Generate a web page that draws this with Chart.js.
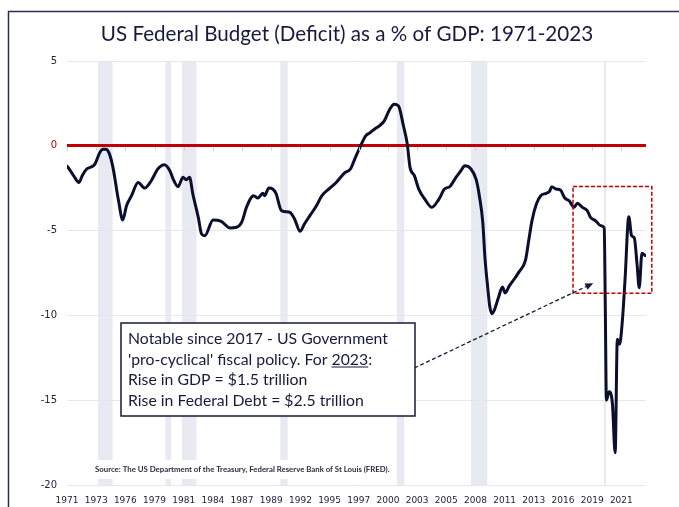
<!DOCTYPE html>
<html>
<head>
<meta charset="utf-8">
<script src="https://cdn.jsdelivr.net/npm/chart.js@4.4.0/dist/chart.umd.min.js"></script>
<style>
  html, body { margin: 0; padding: 0; background: #fff; }
  canvas { display: block; }
</style>
</head>
<body>
<canvas id="deficitChart" width="679" height="507"></canvas>
<script>
// Federal surplus/deficit as % of GDP
const years = [
  1971.0, 1971.1, 1971.6, 1972.1, 1972.4, 1972.8, 1973.25, 1973.55, 1974.0, 1974.3,
  1974.55, 1974.86, 1975.2, 1975.7, 1976.1, 1976.44, 1976.9, 1977.5, 1978.1, 1978.7,
  1979.3, 1979.9, 1980.4, 1980.7, 1981.15, 1981.6, 1981.9, 1982.2, 1982.5, 1983.0,
  1983.3, 1983.6, 1984.35, 1985.1, 1985.9, 1986.5, 1987.0, 1987.4, 1988.06, 1988.45,
  1988.9, 1989.05, 1989.45, 1989.8, 1990.1, 1990.6, 1991.35, 1991.8, 1992.3, 1992.7,
  1993.2, 1993.8, 1994.3, 1995.0, 1995.6, 1996.35, 1996.9, 1997.3, 1997.7, 1998.3,
  1998.65, 1999.1, 1999.55, 2000.0, 2000.5, 2000.9, 2001.3, 2001.75, 2002.1, 2002.35,
  2002.75, 2003.15, 2003.7, 2004.35, 2005.0, 2005.5, 2006.0, 2006.55, 2007.0, 2007.35,
  2007.9, 2008.4, 2008.7, 2009.0, 2009.2, 2009.45, 2009.65, 2009.85, 2010.05, 2010.45,
  2010.8, 2011.05, 2011.4, 2011.9, 2012.3, 2012.9, 2013.2, 2013.5, 2013.9, 2014.3,
  2014.8, 2015.1, 2015.3, 2015.7, 2016.1, 2016.5, 2016.9, 2017.35, 2017.65, 2018.1,
  2018.55, 2018.85, 2019.3, 2019.8, 2020.1, 2020.2, 2020.3, 2020.55, 2020.85, 2021.1,
  2021.3, 2021.5, 2021.75, 2022.0, 2022.35, 2022.6, 2022.85, 2023.1, 2023.3, 2023.55,
  2023.85
];
const deficit = [
  -1.2, -1.27, -1.76, -2.16, -1.75, -1.37, -1.24, -1.08, -0.39, -0.2,
  -0.2, -0.45, -1.27, -3.2, -4.37, -3.53, -2.94, -2.16, -2.49, -2.06,
  -1.37, -1.12, -1.47, -1.96, -2.41, -1.86, -2.0, -1.86, -2.84, -4.22,
  -5.2, -5.3, -4.37, -4.45, -4.84, -4.8, -4.45, -3.63, -2.94, -3.08,
  -2.8, -2.94, -2.49, -2.55, -2.8, -3.82, -3.92, -4.31, -5.04, -4.61,
  -4.12, -3.53, -2.94, -2.51, -2.16, -1.61, -1.37, -0.78, -0.2, 0.59,
  0.75, 0.98, 1.18, 1.47, 2.16, 2.45, 2.35, 1.18, 0.1, -1.27,
  -1.76, -2.55, -3.14, -3.63, -3.14, -2.55, -2.4, -1.86, -1.47, -1.18,
  -1.35, -2.0, -3.0, -4.5, -6.6, -8.33, -9.51, -9.9, -9.7, -8.92,
  -8.33, -8.68, -8.29, -7.84, -7.45, -6.76, -5.59, -4.41, -3.43, -2.94,
  -2.8, -2.69, -2.41, -2.55, -2.61, -3.08, -3.24, -3.63, -3.39, -3.63,
  -3.82, -4.22, -4.41, -4.71, -4.84, -9.5, -15.0, -14.5, -15.2, -18.1,
  -11.4, -11.7, -10.4, -7.94, -4.18, -5.3, -5.43, -6.96, -8.37, -6.33,
  -6.47
];

// x-axis labels (one every 32 months from Jan 1971)
const tickYears = [
  1971.0, 1973.667, 1976.333, 1979.0, 1981.667, 1984.333, 1987.0, 1989.667, 1992.333, 1995.0,
  1997.667, 2000.333, 2003.0, 2005.667, 2008.333, 2011.0, 2013.667, 2016.333, 2019.0, 2021.667
];
const tickLabels = [
  '1971', '1973', '1976', '1979', '1981', '1984', '1987', '1989', '1992', '1995',
  '1997', '2000', '2003', '2005', '2008', '2011', '2013', '2016', '2019', '2021'
];

// recession shading
const recessionStart = [1973.83, 1980.0, 1981.5, 1990.5, 2001.17, 2007.92, 2020.08];
const recessionEnd = [1975.17, 1980.5, 1982.83, 1991.17, 2001.83, 2009.42, 2020.25];

const titleText = 'US Federal Budget (Deficit) as a % of GDP: 1971-2023';
const noteLines = [
  'Notable since 2017 - US Government',
  "'pro-cyclical' fiscal policy. For 2023:",
  'Rise in GDP = $1.5 trillion',
  'Rise in Federal Debt = $2.5 trillion'
];
const sourceText = 'Source: The US Department of the Treasury, Federal Reserve Bank of St Louis (FRED).';

// highlight box and arrow, in data units
const highlightBox = { x0: 2017.25, x1: 2024.45, y0: -2.4, y1: -8.7 };
const arrowFrom = { x: 2002.75, y: -13.1 };
const arrowTo = { x: 2019.1, y: -8.1 };

const NAVY = '#171a3c';
const RED = '#c00000';

const decor = {
  id: 'decor',
  beforeDraw(chart) {
    const { ctx, chartArea: a, scales: { x } } = chart;
    ctx.save();
    ctx.fillStyle = '#fff';
    ctx.fillRect(0, 0, chart.width, chart.height);
    ctx.fillStyle = '#e9e9f1';
    recessionStart.forEach((s, i) => {
      const x0 = x.getPixelForValue(s);
      const x1 = x.getPixelForValue(recessionEnd[i]);
      ctx.fillRect(x0, a.top, Math.max(x1 - x0, 2), a.bottom - a.top);
    });
    ctx.restore();
  },
  afterDraw(chart) {
    const { ctx, scales: { x, y } } = chart;
    ctx.save();

    // outer frame
    ctx.strokeStyle = '#2c2d52';
    ctx.lineWidth = 1.5;
    ctx.beginPath();
    ctx.moveTo(8.5, chart.height);
    ctx.lineTo(8.5, 11.5);
    ctx.lineTo(chart.width, 11.5);
    ctx.stroke();

    // title
    ctx.fillStyle = NAVY;
    ctx.font = '20.6px Lato';
    ctx.textAlign = 'center';
    ctx.textBaseline = 'alphabetic';
    ctx.fillText(titleText, 347, 41);

    // small tick marks under the zero line
    const y0 = y.getPixelForValue(0);
    ctx.strokeStyle = '#d3d3de';
    ctx.lineWidth = 1;
    tickYears.forEach((t) => {
      const px = Math.round(x.getPixelForValue(t)) + 0.5;
      ctx.beginPath();
      ctx.moveTo(px, y0 + 1.5);
      ctx.lineTo(px, y0 + 5);
      ctx.stroke();
    });

    // red dashed highlight box
    ctx.strokeStyle = RED;
    ctx.lineWidth = 1.5;
    ctx.setLineDash([4, 2]);
    const bx0 = x.getPixelForValue(highlightBox.x0);
    const bx1 = x.getPixelForValue(highlightBox.x1);
    const by0 = y.getPixelForValue(highlightBox.y0);
    const by1 = y.getPixelForValue(highlightBox.y1);
    ctx.strokeRect(bx0, by0, bx1 - bx0, by1 - by0);

    // dashed arrow
    const ax0 = x.getPixelForValue(arrowFrom.x), ay0 = y.getPixelForValue(arrowFrom.y);
    const ax1 = x.getPixelForValue(arrowTo.x), ay1 = y.getPixelForValue(arrowTo.y);
    const ang = Math.atan2(ay1 - ay0, ax1 - ax0);
    ctx.strokeStyle = NAVY;
    ctx.lineWidth = 1.3;
    ctx.setLineDash([4, 2.5]);
    ctx.beginPath();
    ctx.moveTo(ax0, ay0);
    ctx.lineTo(ax1 - 5 * Math.cos(ang), ay1 - 5 * Math.sin(ang));
    ctx.stroke();
    ctx.setLineDash([]);
    ctx.fillStyle = NAVY;
    ctx.beginPath();
    ctx.moveTo(ax1, ay1);
    ctx.lineTo(ax1 - 8 * Math.cos(ang) + 3.5 * Math.sin(ang), ay1 - 8 * Math.sin(ang) - 3.5 * Math.cos(ang));
    ctx.lineTo(ax1 - 8 * Math.cos(ang) - 3.5 * Math.sin(ang), ay1 - 8 * Math.sin(ang) + 3.5 * Math.cos(ang));
    ctx.closePath();
    ctx.fill();

    // note box
    ctx.fillStyle = '#fff';
    ctx.fillRect(121, 323, 294, 93);
    ctx.strokeStyle = NAVY;
    ctx.lineWidth = 1.5;
    ctx.strokeRect(121, 323, 294, 93);
    ctx.fillStyle = NAVY;
    ctx.font = '15.8px Lato';
    ctx.textAlign = 'left';
    noteLines.forEach((line, i) => {
      ctx.fillText(line, 128, 344 + i * 20.5);
    });
    // underline the year in line 2
    const pre = ctx.measureText("'pro-cyclical' fiscal policy. For ").width;
    const yr = ctx.measureText('2023').width;
    ctx.fillRect(128 + pre, 344 + 20.5 + 2, yr, 1);

    // source note
    ctx.font = 'bold 7.8px Lato';
    const sw = ctx.measureText(sourceText).width;
    ctx.fillStyle = '#fff';
    ctx.fillRect(90, 460, sw + 10, 19);
    ctx.fillStyle = '#2a2a40';
    ctx.textBaseline = 'middle';
    ctx.fillText(sourceText, 95, 469);

    ctx.restore();
  }
};

new Chart(document.getElementById('deficitChart'), {
  type: 'line',
  data: {
    datasets: [{
      data: years.map((yv, i) => ({ x: yv, y: deficit[i] })),
      borderColor: '#0b0f2e',
      borderWidth: 3,
      pointRadius: 0,
      cubicInterpolationMode: 'monotone',
      borderJoinStyle: 'round',
      borderCapStyle: 'round'
    }]
  },
  options: {
    responsive: false,
    animation: false,
    layout: { padding: { top: 61, right: 33, left: 0, bottom: 0 } },
    plugins: { legend: { display: false }, tooltip: { enabled: false }, title: { display: false } },
    scales: {
      x: {
        type: 'linear',
        min: 1971,
        max: 2023.92,
        afterBuildTicks: (s) => { s.ticks = tickYears.map((v) => ({ value: v })); },
        afterFit: (s) => { s.height = 22; },
        grid: { display: false },
        border: { display: false },
        ticks: {
          autoSkip: false,
          maxRotation: 0,
          padding: 2,
          color: '#22233f',
          font: { family: 'DejaVu Sans', size: 9 },
          callback: (v, i) => tickLabels[i]
        }
      },
      y: {
        min: -20,
        max: 5,
        afterFit: (s) => { s.width = 67; },
        border: { display: false },
        grid: {
          drawTicks: false,
          color: (c) => (c.tick && c.tick.value === 0 ? RED : '#e6e6ee'),
          lineWidth: (c) => (c.tick && c.tick.value === 0 ? 3 : 1)
        },
        ticks: {
          stepSize: 5,
          padding: 10,
          color: (c) => (c.tick && c.tick.value === 0 ? RED : '#22233f'),
          font: { family: 'DejaVu Sans', size: 10 }
        }
      }
    }
  },
  plugins: [decor]
});
</script>
</body>
</html>
